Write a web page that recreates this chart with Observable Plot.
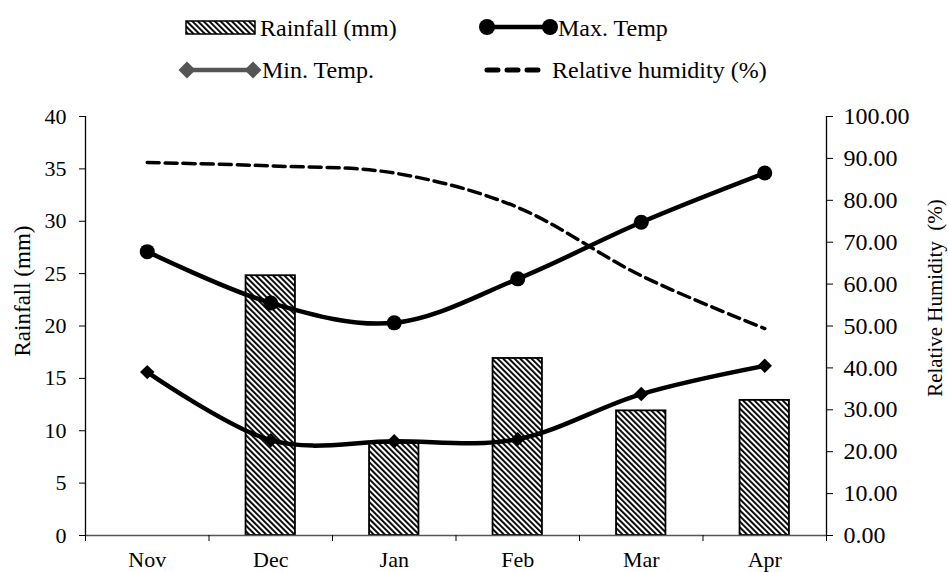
<!DOCTYPE html>
<html>
<head>
<meta charset="utf-8">
<script src="https://cdn.jsdelivr.net/npm/d3@7"></script>
<script src="https://cdn.jsdelivr.net/npm/@observablehq/plot@0.6"></script>
<style>
  html, body { margin: 0; padding: 0; background: #fff; }
  #wrap { width: 948px; font-family: "Liberation Serif", "Times New Roman", serif; }
  #legend { display: block; }
  #chart svg { display: block; }
</style>
</head>
<body>
<div id="wrap">
  <svg id="legend" width="948" height="100"></svg>
  <div id="chart"></div>
</div>
<script>
// ---- data ----
const months = ["Nov", "Dec", "Jan", "Feb", "Mar", "Apr"];
const rainfall = [0, 24.8, 8.8, 16.9, 11.9, 12.9];
const maxTemp = [27.1, 22.2, 20.3, 24.5, 29.9, 34.6];
const minTemp = [15.6, 9.1, 9.0, 9.2, 13.5, 16.2];
const humidity = [89.0, 88.2, 86.5, 78.3, 62.0, 49.4];
const leftTicks = [0, 5, 10, 15, 20, 25, 30, 35, 40];
const rightTicks = [0, 10, 20, 30, 40, 50, 60, 70, 80, 90, 100];
const legendLabels = ["Rainfall (mm)", "Max. Temp", "Min. Temp.", "Relative humidity (%)"];
const leftTitle = "Rainfall (mm)";
const rightTitle = "Relative Humidity  (%)";

const rhToLeft = 40 / 100;
const rows = months.map((m, i) => ({
  i, month: m, rain: rainfall[i], tmax: maxTemp[i], tmin: minTemp[i], rh: humidity[i]
}));
const boundaries = d3.range(months.length + 1).map(k => k - 0.5);

// ---- legend ----
const lg = d3.select("#legend");
const ldefs = lg.append("defs");
const lp = ldefs.append("pattern").attr("id", "hatchL").attr("patternUnits", "userSpaceOnUse")
  .attr("width", 4).attr("height", 4).attr("patternTransform", "rotate(-45)");
lp.append("rect").attr("width", 4).attr("height", 4).attr("fill", "#fff");
lp.append("rect").attr("width", 1.9).attr("height", 4).attr("fill", "#000");
const fontL = 24;
function ltext(x, y, t) {
  lg.append("text").attr("x", x).attr("y", y).attr("dy", "0.34em")
    .attr("font-family", "Liberation Serif").attr("font-size", fontL).attr("fill", "#000").text(t);
}
// Rainfall
lg.append("rect").attr("x", 186).attr("y", 21).attr("width", 69).attr("height", 13)
  .attr("fill", "url(#hatchL)").attr("stroke", "#000").attr("stroke-width", 1.5);
ltext(260, 28, legendLabels[0]);
// Max temp
lg.append("line").attr("x1", 487).attr("x2", 550).attr("y1", 27).attr("y2", 27)
  .attr("stroke", "#000").attr("stroke-width", 4.5);
lg.selectAll(".mc").data([487, 550]).join("circle").attr("cx", d => d).attr("cy", 27).attr("r", 8).attr("fill", "#000");
ltext(558, 28, legendLabels[1]);
// Min temp
lg.append("line").attr("x1", 187).attr("x2", 253).attr("y1", 70).attr("y2", 70)
  .attr("stroke", "#555").attr("stroke-width", 4.5);
lg.selectAll(".md").data([187, 253]).join("path")
  .attr("d", d => `M${d - 8.5},70L${d},61.5L${d + 8.5},70L${d},78.5Z`).attr("fill", "#555");
ltext(262, 70, legendLabels[2]);
// RH
lg.append("line").attr("x1", 487).attr("x2", 546).attr("y1", 70).attr("y2", 70)
  .attr("stroke", "#000").attr("stroke-width", 5).attr("stroke-linecap", "round")
  .attr("stroke-dasharray", "11,9");
ltext(552, 70, legendLabels[3]);

// ---- chart ----
const defs = () => {
  const d = d3.create("svg:defs");
  const p = d.append("pattern").attr("id", "hatch").attr("patternUnits", "userSpaceOnUse")
    .attr("width", 4).attr("height", 4).attr("patternTransform", "rotate(-45)");
  p.append("rect").attr("width", 4).attr("height", 4).attr("fill", "#fff");
  p.append("rect").attr("width", 1.9).attr("height", 4).attr("fill", "#000");
  return d.node();
};

const FS = 22;
const chart = Plot.plot({
  width: 948,
  height: 472,
  marginTop: 16,
  marginBottom: 37,
  marginLeft: 85,
  marginRight: 122,
  x: { type: "linear", domain: [-0.5, months.length - 0.5] },
  y: { domain: [0, 40] },
  style: { fontFamily: "Liberation Serif", fontSize: FS + "px", color: "#000", background: "#fff", overflow: "visible" },
  marks: [
    defs,
    Plot.rectY(rows.filter(d => d.rain > 0), {
      x1: d => d.i - 0.2, x2: d => d.i + 0.2, y1: 0, y2: "rain",
      fill: "url(#hatch)", stroke: "#000", strokeWidth: 1.8
    }),
    Plot.ruleY([0], { stroke: "#555", strokeWidth: 1.5 }),
    Plot.line(rows, { x: "i", y: d => d.rh * rhToLeft, curve: "cardinal", stroke: "#000", strokeWidth: 3.5, strokeDasharray: "12,6" }),
    Plot.line(rows, { x: "i", y: "tmax", curve: "cardinal", stroke: "#000", strokeWidth: 4.5 }),
    Plot.dot(rows, { x: "i", y: "tmax", r: 7.5, fill: "#000" }),
    Plot.line(rows, { x: "i", y: "tmin", curve: "cardinal", stroke: "#000", strokeWidth: 4.5 }),
    Plot.dot(rows, { x: "i", y: "tmin", symbol: "diamond2", r: 6.5, fill: "#000" }),
    Plot.ruleX([boundaries[0], boundaries[boundaries.length - 1]], { stroke: "#000", strokeWidth: 1.3 }),
    Plot.axisY(leftTicks, { anchor: "left", tickSize: 6, tickPadding: 13, label: null, fontSize: FS }),
    Plot.axisY(rightTicks.map(v => v * rhToLeft), {
      anchor: "right", tickSize: 6, tickPadding: 11, label: null, fontSize: 24,
      tickFormat: d => (d / rhToLeft).toFixed(2)
    }),
    Plot.axisX(rows.map(d => d.i), { anchor: "bottom", tickSize: 0, tickPadding: 16, label: null, fontSize: FS, tickFormat: i => months[i] }),
    Plot.axisX(boundaries, { anchor: "bottom", tickSize: 6, label: null, tickFormat: () => "" }),
    Plot.text([leftTitle], { frameAnchor: "left", textAnchor: "middle", rotate: -90, dx: -63, dy: -35, fontSize: 23, fill: "#000" }),
    Plot.text([rightTitle], { frameAnchor: "right", textAnchor: "middle", rotate: -90, dx: 109, dy: -28, fontSize: 21, fill: "#000" })
  ]
});
document.getElementById("chart").appendChild(chart);
</script>
</body>
</html>
